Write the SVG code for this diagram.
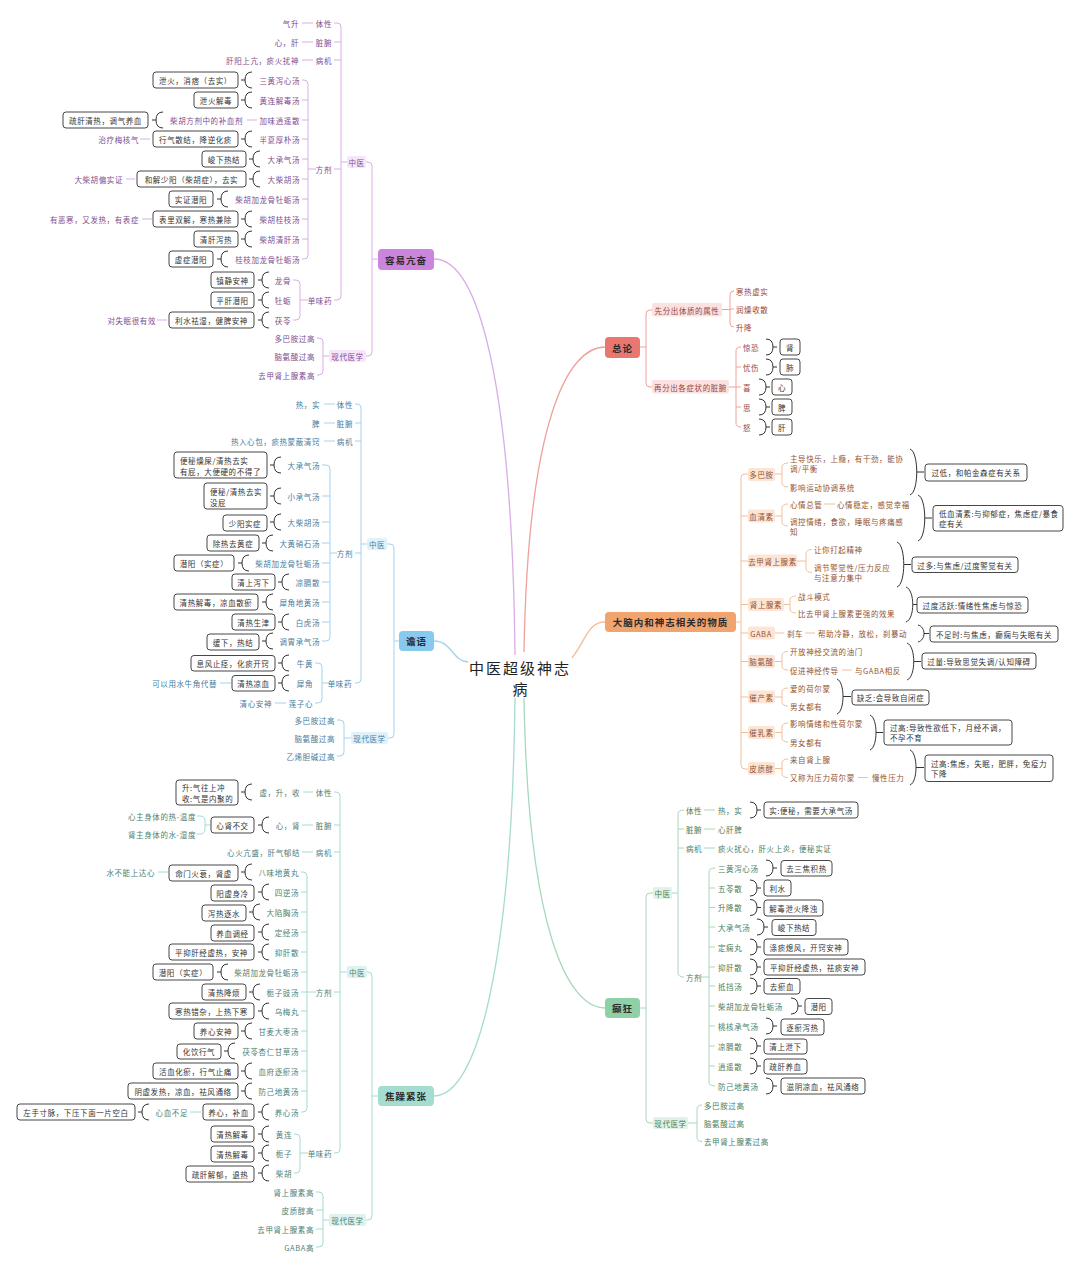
<svg xmlns="http://www.w3.org/2000/svg" width="1080" height="1269" viewBox="0 0 1080 1269">
<style>
.t{font-family:"Noto Sans CJK SC","Noto Sans",sans-serif;font-size:7.5px;letter-spacing:.6px;dominant-baseline:central}
.e{text-anchor:end}.m{text-anchor:middle}
.p{fill:#7e4d8f}.b{fill:#467c9e}.g{fill:#4c8175}.r{fill:#98463f}.o{fill:#93542f}.n{fill:#487d5d}.k{fill:#333}
.bx{fill:#fff;stroke:#474747;stroke-width:1}
.br{fill:none;stroke:#333;stroke-width:1}
.lp{fill:none;stroke:#d9ade8;stroke-width:1}
.lb{fill:none;stroke:#a3d2ef;stroke-width:1}
.lt{fill:none;stroke:#a5dccf;stroke-width:1}
.lr{fill:none;stroke:#efa29c;stroke-width:1}
.lo{fill:none;stroke:#f3bf9a;stroke-width:1}
.ln{fill:none;stroke:#a8d8bb;stroke-width:1}
.mc{stroke-width:1.3}
.nt{font-family:"Noto Sans CJK SC",sans-serif;font-size:9.5px;letter-spacing:1px;font-weight:bold;text-anchor:middle;dominant-baseline:central;fill:#2b2b2b}
.hp{fill:#f6e5fb}.hb{fill:#e1f1fb}.ht{fill:#def3ee}.hr{fill:#fbe1df}.ho{fill:#fde5d6}.hn{fill:#e1f3e7}
</style>
<defs>
<path id="lbr" class="br" d="M 0 -8 Q -7 -8 -7 0 Q -7 8 0 8 M -7 0 H -11"/>
<path id="rbr" class="br" d="M 0 -8 Q 7 -8 7 0 Q 7 8 0 8 M 7 0 H 11"/>
</defs>
<rect width="1080" height="1269" fill="#fff"/>

<g id="connectors">
<path class="lp mc" d="M 515 655 C 512 380, 478 259, 434 259"/>
<path class="lb mc" d="M 434 641 C 452 641, 452 661, 468 662"/>
<path class="lt mc" d="M 515 698 C 512 960, 478 1096, 434 1096"/>
<path class="lr mc" d="M 524 652 C 528 420, 568 347, 605 347"/>
<path class="lo mc" d="M 572 658 C 586 640, 588 622, 605 622"/>
<path class="ln mc" d="M 524 698 C 528 930, 568 1008, 605 1008"/>

<path class="lp" d="M 378 259 H 372 M 365 162 H 368 Q 372 162 372 166 V 352 Q 372 356 368 356 H 365"/>
<path class="lp" d="M 334 23 H 337 Q 341 23 341 27 V 296 Q 341 300 337 300 H 334 M 334 42 H 341 M 334 60 H 341 M 334 169 H 341 M 341 162 H 347"/>
<path class="lp" d="M 302 23 H 313 M 302 42 H 313 M 302 60 H 313"/>
<path class="lp" d="M 302 80 H 304 Q 308 80 308 84 V 255 Q 308 259 304 259 H 302 M 302 100 H 308 M 302 120 H 308 M 302 139 H 308 M 302 159 H 308 M 302 179 H 308 M 302 199 H 308 M 302 219 H 308 M 302 239 H 308 M 308 169 H 316"/>
<path class="lp" d="M 247 120 H 257 M 140 139 H 150 M 126 179 H 135 M 142 219 H 152"/>
<path class="lp" d="M 293 280 H 296 Q 300 280 300 284 V 316 Q 300 320 296 320 H 293 M 300 300 H 308 M 157 320 H 167"/>
<path class="lp" d="M 317 338 H 319 Q 323 338 323 342 V 371 Q 323 375 319 375 H 317 M 323 356 H 329"/>
<use href="#lbr" x="252" y="80"/><use href="#lbr" x="252" y="100"/><use href="#lbr" x="163" y="120"/><use href="#lbr" x="252" y="139"/><use href="#lbr" x="260" y="159"/><use href="#lbr" x="260" y="179"/><use href="#lbr" x="228" y="199"/><use href="#lbr" x="252" y="219"/><use href="#lbr" x="252" y="239"/><use href="#lbr" x="228" y="259"/><use href="#lbr" x="269" y="280"/><use href="#lbr" x="269" y="300"/><use href="#lbr" x="269" y="320"/>

<path class="lb" d="M 399 641 H 394 M 387 544 H 390 Q 394 544 394 548 V 734 Q 394 738 390 738 H 388"/>
<path class="lb" d="M 355 404 H 357 Q 361 404 361 408 V 679 Q 361 683 357 683 H 355 M 355 423 H 361 M 355 441 H 361 M 355 553 H 361 M 361 544 H 367"/>
<path class="lb" d="M 324 404 H 335 M 324 423 H 335 M 324 441 H 335"/>
<path class="lb" d="M 322 465 H 326 Q 330 465 330 469 V 637 Q 330 641 326 641 H 322 M 322 496 H 330 M 322 522 H 330 M 322 543 H 330 M 322 563 H 330 M 322 582 H 330 M 322 602 H 330 M 322 622 H 330 M 330 553 H 337"/>
<path class="lb" d="M 315 663 H 318 Q 322 663 322 667 V 699 Q 322 703 318 703 H 315 M 322 683 H 329 M 220 683 H 231 M 275 703 H 286"/>
<path class="lb" d="M 337 720 H 340 Q 344 720 344 724 V 752 Q 344 756 340 756 H 337 M 344 738 H 351"/>
<use href="#lbr" x="281" y="465"/><use href="#lbr" x="281" y="496"/><use href="#lbr" x="281" y="522"/><use href="#lbr" x="273" y="543"/><use href="#lbr" x="249" y="563"/><use href="#lbr" x="289" y="582"/><use href="#lbr" x="273" y="602"/><use href="#lbr" x="289" y="622"/><use href="#lbr" x="273" y="641"/><use href="#lbr" x="289" y="663"/><use href="#lbr" x="289" y="683"/>

<path class="lt" d="M 378 1096 H 372 M 367 972 H 368 Q 372 972 372 976 V 1216 Q 372 1220 368 1220 H 365"/>
<path class="lt" d="M 334 792 H 336 Q 340 792 340 796 V 1149 Q 340 1153 336 1153 H 334 M 334 825 H 340 M 334 852 H 340 M 334 992 H 340 M 340 972 H 347"/>
<path class="lt" d="M 303 792 H 313 M 302 825 H 313 M 302 852 H 313"/>
<path class="lt" d="M 197 816 H 200 Q 205 816 205 821 V 829 Q 205 834 200 834 H 197 M 205 825 H 211"/>
<path class="lt" d="M 301 872 H 303 Q 307 872 307 876 V 1108 Q 307 1112 303 1112 H 301 M 301 892 H 307 M 301 912 H 307 M 301 932 H 307 M 301 952 H 307 M 301 972 H 307 M 301 992 H 307 M 301 1011 H 307 M 301 1031 H 307 M 301 1051 H 307 M 301 1071 H 307 M 301 1091 H 307 M 307 992 H 316"/>
<path class="lt" d="M 158 872 H 168 M 190 1112 H 201"/>
<path class="lt" d="M 294 1134 H 296 Q 300 1134 300 1138 V 1169 Q 300 1173 296 1173 H 294 M 300 1153 H 308"/>
<path class="lt" d="M 316 1192 H 319 Q 323 1192 323 1196 V 1243 Q 323 1247 319 1247 H 316 M 316 1210 H 323 M 316 1229 H 323 M 323 1220 H 329"/>
<use href="#lbr" x="252" y="792"/><use href="#lbr" x="269" y="825"/><use href="#lbr" x="252" y="872"/><use href="#lbr" x="269" y="892"/><use href="#lbr" x="260" y="912"/><use href="#lbr" x="269" y="932"/><use href="#lbr" x="269" y="952"/><use href="#lbr" x="228" y="972"/><use href="#lbr" x="260" y="992"/><use href="#lbr" x="269" y="1011"/><use href="#lbr" x="252" y="1031"/><use href="#lbr" x="235" y="1051"/><use href="#lbr" x="252" y="1071"/><use href="#lbr" x="252" y="1091"/><use href="#lbr" x="269" y="1112"/><use href="#lbr" x="149" y="1112"/><use href="#lbr" x="269" y="1134"/><use href="#lbr" x="269" y="1153"/><use href="#lbr" x="269" y="1173"/>

<path class="lr" d="M 640 347 H 646 M 652 310 H 650 Q 646 310 646 314 V 383 Q 646 387 650 387 H 652"/>
<path class="lr" d="M 722 309.5 H 730 M 734 291 Q 730 291 730 295 V 323 Q 730 327 734 327 M 730 309 H 734"/>
<path class="lr" d="M 729 387 H 736 M 741 347 Q 736 347 736 351 V 423 Q 736 427 741 427 M 736 367 H 741 M 736 387 H 741 M 736 407 H 741"/>
<use href="#rbr" x="766" y="347"/><use href="#rbr" x="766" y="367"/><use href="#rbr" x="759" y="387"/><use href="#rbr" x="759" y="407"/><use href="#rbr" x="759" y="427"/>

<path class="lo" d="M 735 622 H 741 M 748 474 H 745 Q 741 474 741 478 V 765 Q 741 769 745 769 H 748 M 741 516 H 748 M 741 561 H 748 M 741 604.5 H 748 M 741 633 H 748 M 741 661.5 H 748 M 741 697 H 748 M 741 732.5 H 748"/>
<path class="lo" d="M 775 474 H 782 M 788 463 Q 782 463 782 467 V 483 Q 782 487 788 487"/>
<path class="lo" d="M 775 516 H 782 M 788 504 Q 782 504 782 508 V 522 Q 782 526 788 526 M 824 504 H 835"/>
<path class="lo" d="M 797 561 H 806 M 812 549.5 Q 806 549.5 806 553.5 V 568.5 Q 806 572.5 812 572.5"/>
<path class="lo" d="M 784 604.5 H 790 M 796 596 Q 790 596 790 600 V 609 Q 790 613 796 613"/>
<path class="lo" d="M 775 633 H 784 M 805 633 H 815"/>
<path class="lo" d="M 775 661.5 H 782 M 788 651.5 Q 782 651.5 782 655.5 V 666 Q 782 670 788 670 M 842 670 H 852"/>
<path class="lo" d="M 775 697 H 782 M 788 688 Q 782 688 782 692 V 702 Q 782 706 788 706"/>
<path class="lo" d="M 775 732.5 H 782 M 788 723 Q 782 723 782 727 V 738 Q 782 742 788 742"/>
<path class="lo" d="M 775 768.5 H 782 M 788 759 Q 782 759 782 763 V 773.5 Q 782 777.5 788 777.5 M 858 777.5 H 868"/>
<path class="br" d="M 910 449 C 919 452, 919 492, 910 495 M 917 472 H 924"/>
<path class="br" d="M 918 495 C 927 498, 927 538, 918 541 M 925 518 H 932"/>
<path class="br" d="M 897 542 C 906 545, 906 584, 897 587 M 904 564.5 H 911"/>
<path class="br" d="M 906 587 C 915 590, 915 619, 906 622 M 913 604.5 H 917"/>
<path class="br" d="M 918 625 C 926 627, 926 640, 918 642 M 924 633.5 H 929"/>
<path class="br" d="M 907 643 C 916 646, 916 677, 907 680 M 914 661.5 H 921"/>
<path class="br" d="M 837 679 C 845 682, 845 711, 837 714 M 843 696.5 H 851"/>
<path class="br" d="M 870 715 C 878 718, 878 747, 870 750 M 876 732.5 H 883"/>
<path class="br" d="M 910 750 C 918 753, 918 782, 910 785 M 916 767.5 H 924"/>

<path class="ln" d="M 640 1008 H 646 M 653 893 H 650 Q 646 893 646 897 V 1119 Q 646 1123 650 1123 H 653"/>
<path class="ln" d="M 672 893 H 678 M 684 810 Q 678 810 678 814 V 973 Q 678 977 684 977 M 678 829 H 684 M 678 848 H 684 M 704 810 H 715 M 704 829 H 715 M 704 848 H 715"/>
<path class="ln" d="M 701 977 H 709 M 715 868 Q 709 868 709 872 V 1082 Q 709 1086 715 1086 M 709 888 H 715 M 709 907.5 H 715 M 709 927 H 715 M 709 947 H 715 M 709 967 H 715 M 709 986 H 715 M 709 1006 H 715 M 709 1026 H 715 M 709 1046 H 715 M 709 1066 H 715"/>
<path class="ln" d="M 688 1123 H 697 M 702 1105 Q 697 1105 697 1109 V 1137.5 Q 697 1141.5 702 1141.5"/>
<use href="#rbr" x="750" y="810"/><use href="#rbr" x="766" y="868"/><use href="#rbr" x="750" y="888"/><use href="#rbr" x="750" y="907.5"/><use href="#rbr" x="757" y="927"/><use href="#rbr" x="750" y="947"/><use href="#rbr" x="750" y="967"/><use href="#rbr" x="750" y="986"/><use href="#rbr" x="791" y="1006"/><use href="#rbr" x="766" y="1026"/><use href="#rbr" x="750" y="1046"/><use href="#rbr" x="750" y="1066"/><use href="#rbr" x="766" y="1086"/>
</g>

<g id="center">
<text x="520" y="667" font-family="Noto Sans CJK SC, sans-serif" font-size="15" letter-spacing="2" text-anchor="middle" dominant-baseline="central" fill="#222">中医超级神志</text>
<text x="520" y="688" font-family="Noto Sans CJK SC, sans-serif" font-size="15" text-anchor="middle" dominant-baseline="central" fill="#222">病</text>
</g>

<g id="node-rongyi">
<rect x="378" y="249" width="56" height="21" rx="4" fill="#cc85dc"/>
<text class="nt" x="406" y="259.5">容易亢奋</text>
</g>
<g id="rongyi-sub" class="t">
<rect class="hp" x="347" y="156" width="19" height="12" rx="2"/><text class="t p m" x="356.5" y="162">中医</text>
<rect class="hp" x="329" y="350" width="37" height="12" rx="2"/><text class="t p m" x="347.5" y="356">现代医学</text>
<text class="t p e" x="332" y="23">体性</text><text class="t p e" x="299" y="23">气升</text>
<text class="t p e" x="332" y="42">脏腑</text><text class="t p e" x="299" y="42">心，肝</text>
<text class="t p e" x="332" y="60">病机</text><text class="t p e" x="299" y="60">肝阳上亢，痰火扰神</text>
<text class="t p e" x="332" y="169">方剂</text>
<text class="t p e" x="332" y="300">单味药</text>
<text class="t p e" x="300" y="80">三黄泻心汤</text>
<text class="t p e" x="300" y="100">黄连解毒汤</text>
<text class="t p e" x="300" y="120">加味逍遥散</text>
<text class="t p e" x="300" y="139">半夏厚朴汤</text>
<text class="t p e" x="300" y="159">大承气汤</text>
<text class="t p e" x="300" y="179">大柴胡汤</text>
<text class="t p e" x="300" y="199">柴胡加龙骨牡蛎汤</text>
<text class="t p e" x="300" y="219">柴胡桂枝汤</text>
<text class="t p e" x="300" y="239">柴胡清肝汤</text>
<text class="t p e" x="300" y="259">桂枝加龙骨牡蛎汤</text>
<text class="t p e" x="243" y="120">柴胡方剂中的补血剂</text>
<text class="t p e" x="139" y="139">治疗梅核气</text>
<text class="t p e" x="123" y="179">大柴胡偏实证</text>
<text class="t p e" x="139" y="219">有恶寒，又发热，有表症</text>
<text class="t p e" x="291" y="280">龙骨</text>
<text class="t p e" x="291" y="300">牡蛎</text>
<text class="t p e" x="291" y="320">茯苓</text>
<text class="t p e" x="156" y="320">对失眠很有效</text>
<text class="t p e" x="315" y="338">多巴胺过高</text>
<text class="t p e" x="315" y="356">脑氨酸过高</text>
<text class="t p e" x="315" y="375">去甲肾上腺素高</text>
<rect class="bx" x="153" y="72" width="85" height="16" rx="3"/><text class="t k m" x="195.5" y="80">泄火，消痞（去实）</text>
<rect class="bx" x="194" y="92" width="44" height="16" rx="3"/><text class="t k m" x="216" y="100">泄火解毒</text>
<rect class="bx" x="63" y="112" width="85" height="16" rx="3"/><text class="t k m" x="105.5" y="120">疏肝清热，调气养血</text>
<rect class="bx" x="153" y="131" width="85" height="16" rx="3"/><text class="t k m" x="195.5" y="139">行气散结，降逆化痰</text>
<rect class="bx" x="202" y="151" width="44" height="16" rx="3"/><text class="t k m" x="224" y="159">峻下热结</text>
<rect class="bx" x="137" y="171" width="109" height="16" rx="3"/><text class="t k m" x="191.5" y="179">和解少阳（柴胡症），去实</text>
<rect class="bx" x="169" y="191" width="44" height="16" rx="3"/><text class="t k m" x="191" y="199">实证潜阳</text>
<rect class="bx" x="153" y="211" width="85" height="16" rx="3"/><text class="t k m" x="195.5" y="219">表里双解，寒热兼除</text>
<rect class="bx" x="194" y="231" width="44" height="16" rx="3"/><text class="t k m" x="216" y="239">清肝泻热</text>
<rect class="bx" x="169" y="251" width="44" height="16" rx="3"/><text class="t k m" x="191" y="259">虚症潜阳</text>
<rect class="bx" x="211" y="272" width="43" height="16" rx="3"/><text class="t k m" x="232.5" y="280">镇静安神</text>
<rect class="bx" x="211" y="292" width="43" height="16" rx="3"/><text class="t k m" x="232.5" y="300">平肝潜阳</text>
<rect class="bx" x="169" y="312" width="85" height="16" rx="3"/><text class="t k m" x="211.5" y="320">利水祛湿，健脾安神</text>
</g>

<g id="node-zhanyu">
<rect x="399" y="631" width="35" height="20" rx="4" fill="#88c9f0"/>
<text class="nt" x="416.5" y="641">谵语</text>
</g>
<g id="zhanyu-sub">
<rect class="hb" x="367" y="538" width="20" height="12" rx="2"/><text class="t b m" x="377" y="544">中医</text>
<rect class="hb" x="351" y="732" width="37" height="12" rx="2"/><text class="t b m" x="369.5" y="738">现代医学</text>
<text class="t b e" x="353" y="404">体性</text><text class="t b e" x="320" y="404">热，实</text>
<text class="t b e" x="353" y="423">脏腑</text><text class="t b e" x="320" y="423">脾</text>
<text class="t b e" x="353" y="441">病机</text><text class="t b e" x="320" y="441">热入心包，痰热蒙蔽清窍</text>
<text class="t b e" x="353" y="553">方剂</text>
<text class="t b e" x="352" y="683">单味药</text>
<text class="t b e" x="320" y="465">大承气汤</text>
<text class="t b e" x="320" y="496">小承气汤</text>
<text class="t b e" x="320" y="522">大柴胡汤</text>
<text class="t b e" x="320" y="543">大黄硝石汤</text>
<text class="t b e" x="320" y="563">柴胡加龙骨牡蛎汤</text>
<text class="t b e" x="320" y="582">凉膈散</text>
<text class="t b e" x="320" y="602">犀角地黄汤</text>
<text class="t b e" x="320" y="622">白虎汤</text>
<text class="t b e" x="320" y="641">调胃承气汤</text>
<text class="t b e" x="313" y="663">牛黄</text>
<text class="t b e" x="313" y="683">犀角</text>
<text class="t b e" x="313" y="703">莲子心</text>
<text class="t b e" x="217" y="683">可以用水牛角代替</text>
<text class="t b e" x="272" y="703">清心安神</text>
<text class="t b e" x="335" y="720">多巴胺过高</text>
<text class="t b e" x="335" y="738">脑氨酸过高</text>
<text class="t b e" x="335" y="756">乙烯胆碱过高</text>
<rect class="bx" x="174" y="452" width="93" height="26" rx="3"/><text class="t k" x="180" y="460">便秘燥屎/清热去实</text><text class="t k" x="180" y="471">有屁，大便硬的不得了</text>
<rect class="bx" x="204" y="483" width="63" height="26" rx="3"/><text class="t k" x="210" y="491">便秘/清热去实</text><text class="t k" x="210" y="502">没屁</text>
<rect class="bx" x="223" y="515" width="44" height="16" rx="3"/><text class="t k m" x="245" y="523">少阳实症</text>
<rect class="bx" x="207" y="535" width="52" height="16" rx="3"/><text class="t k m" x="233" y="543">除热去黄症</text>
<rect class="bx" x="174" y="555" width="60" height="16" rx="3"/><text class="t k m" x="204" y="563">潜阳（实症）</text>
<rect class="bx" x="232" y="574" width="43" height="16" rx="3"/><text class="t k m" x="253.5" y="582">清上泻下</text>
<rect class="bx" x="174" y="594" width="84" height="16" rx="3"/><text class="t k m" x="216" y="602">清热解毒，凉血散瘀</text>
<rect class="bx" x="232" y="614" width="43" height="16" rx="3"/><text class="t k m" x="253.5" y="622">清热生津</text>
<rect class="bx" x="207" y="634" width="52" height="16" rx="3"/><text class="t k m" x="233" y="642">缓下，热结</text>
<rect class="bx" x="191" y="655.5" width="84" height="15.5" rx="3"/><text class="t k m" x="233" y="663">息风止痉，化痰开窍</text>
<rect class="bx" x="232" y="675.5" width="43" height="15.5" rx="3"/><text class="t k m" x="253.5" y="683">清热凉血</text>
</g>

<g id="node-jiaozao">
<rect x="378" y="1086" width="56" height="20" rx="4" fill="#a3ddd0"/>
<text class="nt" x="406" y="1096">焦躁紧张</text>
</g>
<g id="jiaozao-sub">
<rect class="ht" x="347" y="966" width="20" height="12" rx="2"/><text class="t g m" x="357" y="972">中医</text>
<rect class="ht" x="329" y="1214" width="37" height="12" rx="2"/><text class="t g m" x="347.5" y="1220">现代医学</text>
<text class="t g e" x="332" y="792">体性</text><text class="t g e" x="300" y="792">虚，升，收</text>
<text class="t g e" x="332" y="825">脏腑</text><text class="t g e" x="300" y="825">心，肾</text>
<text class="t g e" x="332" y="852">病机</text><text class="t g e" x="300" y="852">心火亢盛，肝气郁结</text>
<text class="t g e" x="332" y="992">方剂</text>
<text class="t g e" x="332" y="1153">单味药</text>
<text class="t g e" x="196" y="816">心主身体的热-温度</text>
<text class="t g e" x="196" y="834">肾主身体的水-湿度</text>
<text class="t g e" x="299" y="872">八味地黄丸</text>
<text class="t g e" x="299" y="892">四逆汤</text>
<text class="t g e" x="299" y="912">大陷胸汤</text>
<text class="t g e" x="299" y="932">定经汤</text>
<text class="t g e" x="299" y="952">抑肝散</text>
<text class="t g e" x="299" y="972">柴胡加龙骨牡蛎汤</text>
<text class="t g e" x="299" y="992">栀子豉汤</text>
<text class="t g e" x="299" y="1011">乌梅丸</text>
<text class="t g e" x="299" y="1031">甘麦大枣汤</text>
<text class="t g e" x="299" y="1051">茯苓杏仁甘草汤</text>
<text class="t g e" x="299" y="1071">血府逐瘀汤</text>
<text class="t g e" x="299" y="1091">防己地黄汤</text>
<text class="t g e" x="299" y="1112">养心汤</text>
<text class="t g e" x="155" y="872">水不能上达心</text>
<text class="t g e" x="188" y="1112">心血不足</text>
<text class="t g e" x="292" y="1134">黄连</text>
<text class="t g e" x="292" y="1153">栀子</text>
<text class="t g e" x="292" y="1173">柴胡</text>
<text class="t g e" x="314" y="1192">肾上腺素高</text>
<text class="t g e" x="314" y="1210">皮质醇高</text>
<text class="t g e" x="314" y="1229">去甲肾上腺素高</text>
<text class="t g e" x="314" y="1247">GABA高</text>
<rect class="bx" x="176" y="780" width="62" height="25" rx="3"/><text class="t k" x="182" y="787">升:气往上冲</text><text class="t k" x="182" y="798">收:气是内聚的</text>
<rect class="bx" x="211" y="817" width="43" height="16" rx="3"/><text class="t k m" x="232.5" y="825">心肾不交</text>
<rect class="bx" x="169" y="865" width="69" height="16" rx="3"/><text class="t k m" x="203.5" y="873">命门火衰，肾虚</text>
<rect class="bx" x="211" y="885" width="43" height="16" rx="3"/><text class="t k m" x="232.5" y="893">阳虚身冷</text>
<rect class="bx" x="202" y="905" width="44" height="16" rx="3"/><text class="t k m" x="224" y="913">泻热逐水</text>
<rect class="bx" x="211" y="925" width="43" height="16" rx="3"/><text class="t k m" x="232.5" y="933">养血调经</text>
<rect class="bx" x="169" y="944" width="85" height="16" rx="3"/><text class="t k m" x="211.5" y="952">平抑肝经虚热，安神</text>
<rect class="bx" x="153" y="964" width="60" height="16" rx="3"/><text class="t k m" x="183" y="972">潜阳（实症）</text>
<rect class="bx" x="202" y="984" width="44" height="16" rx="3"/><text class="t k m" x="224" y="992">清热降烦</text>
<rect class="bx" x="169" y="1003" width="85" height="16" rx="3"/><text class="t k m" x="211.5" y="1011">寒热错杂，上热下寒</text>
<rect class="bx" x="194" y="1023" width="44" height="16" rx="3"/><text class="t k m" x="216" y="1031">养心安神</text>
<rect class="bx" x="177" y="1044" width="44" height="15" rx="3"/><text class="t k m" x="199" y="1051.5">化饮行气</text>
<rect class="bx" x="153" y="1063" width="85" height="16" rx="3"/><text class="t k m" x="195.5" y="1071">活血化瘀，行气止痛</text>
<rect class="bx" x="128" y="1083" width="110" height="16" rx="3"/><text class="t k m" x="183" y="1091">阴虚发热，凉血，祛风通络</text>
<rect class="bx" x="203" y="1104" width="51" height="16" rx="3"/><text class="t k m" x="228.5" y="1112">养心，补血</text>
<rect class="bx" x="17" y="1104" width="118" height="16" rx="3"/><text class="t k m" x="76" y="1112">左手寸脉，下压下面一片空白</text>
<rect class="bx" x="211" y="1126" width="43" height="16" rx="3"/><text class="t k m" x="232.5" y="1134">清热解毒</text>
<rect class="bx" x="211" y="1146" width="43" height="16" rx="3"/><text class="t k m" x="232.5" y="1154">清热解毒</text>
<rect class="bx" x="186" y="1166" width="68" height="16" rx="3"/><text class="t k m" x="220" y="1174">疏肝解郁，退热</text>
</g>

<g id="node-zonglun">
<rect x="605" y="337" width="35" height="21" rx="4" fill="#e9776f"/>
<text class="nt" x="622.5" y="347.5">总论</text>
</g>
<g id="zonglun-sub">
<rect class="hr" x="652" y="303" width="70" height="13.5" rx="2"/><text class="t r m" x="687" y="310">先分出体质的属性</text>
<rect class="hr" x="652" y="380" width="77" height="13.5" rx="2"/><text class="t r m" x="690.5" y="387">再分出各症状的脏腑</text>
<text class="t r" x="736" y="291">寒热虚实</text>
<text class="t r" x="736" y="309">润燥收散</text>
<text class="t r" x="736" y="327">升降</text>
<text class="t r" x="743" y="347">惊恐</text>
<text class="t r" x="743" y="367">忧伤</text>
<text class="t r" x="743" y="387">喜</text>
<text class="t r" x="743" y="407">思</text>
<text class="t r" x="743" y="427">怒</text>
<rect class="bx" x="780" y="339" width="20" height="16" rx="3"/><text class="t k m" x="790" y="347">肾</text>
<rect class="bx" x="780" y="359" width="20" height="16" rx="3"/><text class="t k m" x="790" y="367">肺</text>
<rect class="bx" x="772" y="379" width="20" height="16" rx="3"/><text class="t k m" x="782" y="387">心</text>
<rect class="bx" x="772" y="399" width="20" height="16" rx="3"/><text class="t k m" x="782" y="407">脾</text>
<rect class="bx" x="772" y="419" width="20" height="16" rx="3"/><text class="t k m" x="782" y="427">肝</text>
</g>

<g id="node-danao">
<rect x="605" y="612" width="131" height="20" rx="4" fill="#f2a46f"/>
<text class="nt" x="670.5" y="622">大脑内和神志相关的物质</text>
</g>
<g id="danao-sub">
<rect class="ho" x="748" y="468" width="27" height="13" rx="2"/><text class="t o m" x="761.5" y="474.5">多巴胺</text>
<rect class="ho" x="748" y="509.5" width="27" height="13" rx="2"/><text class="t o m" x="761.5" y="516">血清素</text>
<rect class="ho" x="748" y="554.5" width="49" height="13" rx="2"/><text class="t o m" x="772.5" y="561">去甲肾上腺素</text>
<rect class="ho" x="748" y="598" width="36" height="13" rx="2"/><text class="t o m" x="766" y="604.5">肾上腺素</text>
<rect class="ho" x="748" y="626.5" width="27" height="13" rx="2"/><text class="t o m" x="761" y="633">GABA</text>
<rect class="ho" x="748" y="655" width="27" height="13" rx="2"/><text class="t o m" x="761.5" y="661.5">脑氨酸</text>
<rect class="ho" x="748" y="690.5" width="27" height="13" rx="2"/><text class="t o m" x="761.5" y="697">催产素</text>
<rect class="ho" x="748" y="726" width="27" height="13" rx="2"/><text class="t o m" x="761.5" y="732.5">催乳素</text>
<rect class="ho" x="748" y="762" width="27" height="13" rx="2"/><text class="t o m" x="761.5" y="768.5">皮质醇</text>
<text class="t o" x="790" y="458">主导快乐，上瘾，有干劲，能协</text>
<text class="t o" x="790" y="468.5">调/平衡</text>
<text class="t o" x="790" y="487">影响运动协调系统</text>
<text class="t o" x="790" y="504">心情总管</text>
<text class="t o" x="837" y="504">心情稳定，感觉幸福</text>
<text class="t o" x="790" y="521.5">调控情绪，食欲，睡眠与疼痛感</text>
<text class="t o" x="790" y="531.5">知</text>
<text class="t o" x="814" y="549.5">让你打起精神</text>
<text class="t o" x="814" y="567.5">调节警觉性/压力反应</text>
<text class="t o" x="814" y="577.5">与注意力集中</text>
<text class="t o" x="798" y="596">战斗模式</text>
<text class="t o" x="798" y="613">比去甲肾上腺素更强的效果</text>
<text class="t o" x="787" y="633">刹车</text>
<text class="t o" x="818" y="633">帮助冷静，放松，刹暴动</text>
<text class="t o" x="790" y="651.5">开放神经交流的油门</text>
<text class="t o" x="790" y="670">促进神经传导</text>
<text class="t o" x="855" y="670">与GABA相反</text>
<text class="t o" x="790" y="688">爱的荷尔蒙</text>
<text class="t o" x="790" y="706">男女都有</text>
<text class="t o" x="790" y="723">影响情绪和性荷尔蒙</text>
<text class="t o" x="790" y="742">男女都有</text>
<text class="t o" x="790" y="759">来自肾上腺</text>
<text class="t o" x="790" y="777.5">又称为压力荷尔蒙</text>
<text class="t o" x="872" y="777.5">慢性压力</text>
<rect class="bx" x="925" y="464" width="102" height="17" rx="3"/><text class="t k m" x="976" y="472.5">过低，和帕金森症有关系</text>
<rect class="bx" x="933" y="505.5" width="130" height="25.5" rx="3"/><text class="t k" x="939" y="513">低血清素:与抑郁症，焦虑症/暴食</text><text class="t k" x="939" y="523.5">症有关</text>
<rect class="bx" x="912" y="557" width="106" height="15.5" rx="3"/><text class="t k m" x="965" y="565">过多:与焦虑/过度警觉有关</text>
<rect class="bx" x="917" y="597" width="111" height="16" rx="3"/><text class="t k m" x="972.5" y="605">过度活跃:情绪性焦虑与惊恐</text>
<rect class="bx" x="930" y="626" width="128" height="16" rx="3"/><text class="t k m" x="994" y="634">不足时:与焦虑，癫痫与失眠有关</text>
<rect class="bx" x="922" y="653" width="114" height="16" rx="3"/><text class="t k m" x="979" y="661">过量:导致思觉失调/认知障碍</text>
<rect class="bx" x="852" y="690" width="77" height="15" rx="3"/><text class="t k m" x="890.5" y="697.5">缺乏:会导致自闭症</text>
<rect class="bx" x="884" y="720" width="128" height="25" rx="3"/><text class="t k" x="890" y="727.5">过高:导致性欲低下，月经不调，</text><text class="t k" x="890" y="737.5">不孕不育</text>
<rect class="bx" x="925" y="755" width="128" height="26.5" rx="3"/><text class="t k" x="931" y="763.5">过高:焦虑，失眠，肥胖，免疫力</text><text class="t k" x="931" y="773.5">下降</text>
</g>

<g id="node-dian">
<rect x="605" y="998" width="35" height="20" rx="4" fill="#90d0a9"/>
<text class="nt" x="622.5" y="1008">癫狂</text>
</g>
<g id="dian-sub">
<rect class="hn" x="653" y="887" width="19" height="12" rx="2"/><text class="t n m" x="662.5" y="893">中医</text>
<rect class="hn" x="653" y="1117" width="35" height="12" rx="2"/><text class="t n m" x="670.5" y="1123">现代医学</text>
<text class="t n" x="686" y="810">体性</text><text class="t n" x="718" y="810">热，实</text>
<text class="t n" x="686" y="829">脏腑</text><text class="t n" x="718" y="829">心肝脾</text>
<text class="t n" x="686" y="848">病机</text><text class="t n" x="718" y="848">痰火扰心，肝火上炎，便秘实证</text>
<text class="t n" x="686" y="977">方剂</text>
<text class="t n" x="718" y="868">三黄泻心汤</text>
<text class="t n" x="718" y="888">五苓散</text>
<text class="t n" x="718" y="907.5">升降散</text>
<text class="t n" x="718" y="927">大承气汤</text>
<text class="t n" x="718" y="947">定痫丸</text>
<text class="t n" x="718" y="967">抑肝散</text>
<text class="t n" x="718" y="986">抵挡汤</text>
<text class="t n" x="718" y="1006">柴胡加龙骨牡蛎汤</text>
<text class="t n" x="718" y="1026">桃核承气汤</text>
<text class="t n" x="718" y="1046">凉膈散</text>
<text class="t n" x="718" y="1066">逍遥散</text>
<text class="t n" x="718" y="1086">防己地黄汤</text>
<text class="t n" x="704" y="1105">多巴胺过高</text>
<text class="t n" x="704" y="1123">脑氨酸过高</text>
<text class="t n" x="704" y="1141.5">去甲肾上腺素过高</text>
<rect class="bx" x="764" y="802" width="94" height="16" rx="3"/><text class="t k m" x="811" y="810">实:便秘，需要大承气汤</text>
<rect class="bx" x="781" y="860.5" width="51" height="15.5" rx="3"/><text class="t k m" x="806.5" y="868">去三焦积热</text>
<rect class="bx" x="764" y="880" width="27" height="16" rx="3"/><text class="t k m" x="777.5" y="888">利水</text>
<rect class="bx" x="764" y="900" width="59" height="16" rx="3"/><text class="t k m" x="793.5" y="908">解毒泄火降浊</text>
<rect class="bx" x="772" y="919.5" width="44" height="16" rx="3"/><text class="t k m" x="794" y="927.5">峻下热结</text>
<rect class="bx" x="764" y="939" width="84" height="16" rx="3"/><text class="t k m" x="806" y="947">涤痰熄风，开窍安神</text>
<rect class="bx" x="764" y="959" width="101" height="16" rx="3"/><text class="t k m" x="814.5" y="967">平抑肝经虚热，祛痰安神</text>
<rect class="bx" x="764" y="978.5" width="36" height="15.5" rx="3"/><text class="t k m" x="782" y="986">去瘀血</text>
<rect class="bx" x="805" y="998.5" width="27" height="16" rx="3"/><text class="t k m" x="818.5" y="1006.5">潜阳</text>
<rect class="bx" x="781" y="1019" width="43" height="16" rx="3"/><text class="t k m" x="802.5" y="1027">逐瘀泻热</text>
<rect class="bx" x="764" y="1039" width="43" height="15" rx="3"/><text class="t k m" x="785.5" y="1046.5">清上泄下</text>
<rect class="bx" x="764" y="1059" width="43" height="15" rx="3"/><text class="t k m" x="785.5" y="1066.5">疏肝养血</text>
<rect class="bx" x="781" y="1078" width="84" height="16" rx="3"/><text class="t k m" x="823" y="1086">滋阴凉血，祛风通络</text>
</g>
</svg>
